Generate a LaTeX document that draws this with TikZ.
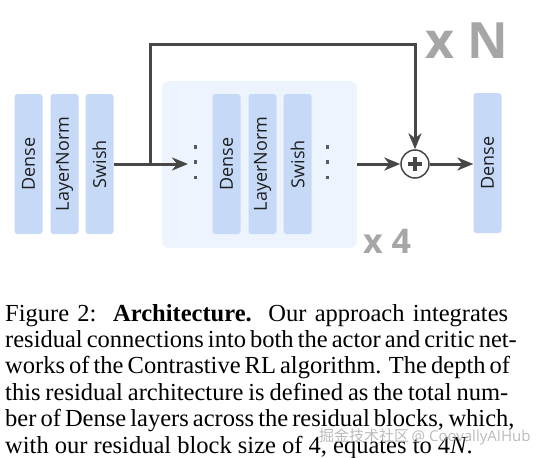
\documentclass[tikz,border=0pt]{standalone}
\usepackage{fontspec}
\setmainfont{Liberation Serif}
\newfontfamily\diagfont{Open Sans}
\newfontfamily\cjkfont{Noto Sans CJK SC}
\usetikzlibrary{arrows.meta}
\definecolor{boxblue}{HTML}{C6DAF8}
\definecolor{blockbg}{HTML}{EEF4FD}
\definecolor{linegray}{HTML}{474747}
\definecolor{labelgray}{HTML}{A6A6A6}
\definecolor{wmgray}{HTML}{B4B4B4}
\tikzset{
  layerbox/.style={fill=boxblue, rounded corners=3pt, minimum width=28pt, minimum height=140pt, inner sep=0pt},
  layertext/.style={rotate=90, font=\diagfont\fontsize{18}{18}\selectfont, text=black!88},
  conn/.style={draw=linegray, line width=3pt},
  arr/.style={conn, -{Stealth[length=16pt,width=13pt,inset=5pt]}},
  dotsq/.style={fill=linegray!90, minimum size=3.5pt, inner sep=0pt},
  capline/.style={anchor=base west, inner sep=0pt, font=\fontsize{24.5}{26}\selectfont}
}
\newcommand{\capbox}[1]{\makebox[503pt][s]{#1}}
\begin{document}
\begin{tikzpicture}[x=1pt,y=-1pt]
\useasboundingbox (0,0) rectangle (542,458);
\fill[white] (0,0) rectangle (542,458);
% residual block background
\node[fill=blockbg, rounded corners=7pt, minimum width=195pt, minimum height=167pt, inner sep=0pt] (blk) at (259.5,164.5) {};
% first layers
\node[layerbox, label={[layertext]center:Dense}] (d1) at (28.5,164) {};
\node[layerbox, label={[layertext]center:LayerNorm}] (ln1) at (64.5,164) {};
\node[layerbox, label={[layertext]center:Swish}] (sw1) at (99.5,164) {};
% block layers
\node[layerbox, label={[layertext]center:Dense}] (d2) at (226.5,164) {};
\node[layerbox, label={[layertext]center:LayerNorm}] (ln2) at (262.5,164) {};
\node[layerbox, label={[layertext]center:Swish}] (sw2) at (297.5,164) {};
% output
\node[layerbox, label={[layertext]center:Dense}] (d3) at (487.5,163) {};
% dots
\foreach \yy [count=\i] in {147,162,177.5}{
  \node[dotsq] (la\i) at (195.5,\yy) {};
  \node[dotsq] (ra\i) at (327.6,\yy) {};
}
% plus
\node[circle, draw=linegray, line width=1.5pt, fill=white, minimum size=28pt, inner sep=0pt] (plus) at (415,164) {};
\draw[linegray, line width=3.5pt] ([xshift=-7pt]plus.center) -- ([xshift=7pt]plus.center);
\draw[linegray, line width=3.5pt] ([yshift=-7pt]plus.center) -- ([yshift=7pt]plus.center);
% connectors
\coordinate (split) at (150,164);
\coordinate (inarrow) at (188,164);
\coordinate (topc) at (415,44);
\draw[conn] (sw1.east |- split) -- (split);
\draw[arr] (split) -- (inarrow);
\draw[arr] (split) |- (topc) -- (plus.north);
\draw[arr] (blk.east |- plus) -- (plus.west);
\draw[arr] (plus.east) -- (d3.west |- plus);
% labels
\node[anchor=base west, inner sep=0pt, text=labelgray, font=\diagfont\bfseries\fontsize{50}{50}\selectfont] (xn) at (425,58) {x N};
\node[anchor=base west, inner sep=0pt, text=labelgray, font=\diagfont\bfseries\fontsize{34}{34}\selectfont] (x4) at (363,253) {x 4};
% caption
\node[capline] (c1) at (5,321) {\capbox{Figure 2:\ \ \textbf{Architecture.}\ \ Our approach integrates}};
\node[capline] (c2) at (5,347.4) {\capbox{residual connections into both the actor and critic net-}};
\node[capline] (c3) at (5,373.8) {\capbox{works of the Contrastive RL algorithm. The depth of}};
\node[capline] (c4) at (5,400.2) {\capbox{this residual architecture is defined as the total num-}};
\node[capline] (c5) at (5,426.6) {\capbox{ber of Dense layers across the residual blocks, which,}};
\node[capline] (c6) at (5,453) {with our residual block size of 4, equates to 4\textit{N}.};
% watermark
\node[anchor=west, inner sep=0pt, text=wmgray, opacity=0.9, font=\fontsize{15}{15}\selectfont] (wm) at (319,437) {{\cjkfont 掘金技术社区}\,{\diagfont @ CoovallyAIHub}};
\end{tikzpicture}
\end{document}
